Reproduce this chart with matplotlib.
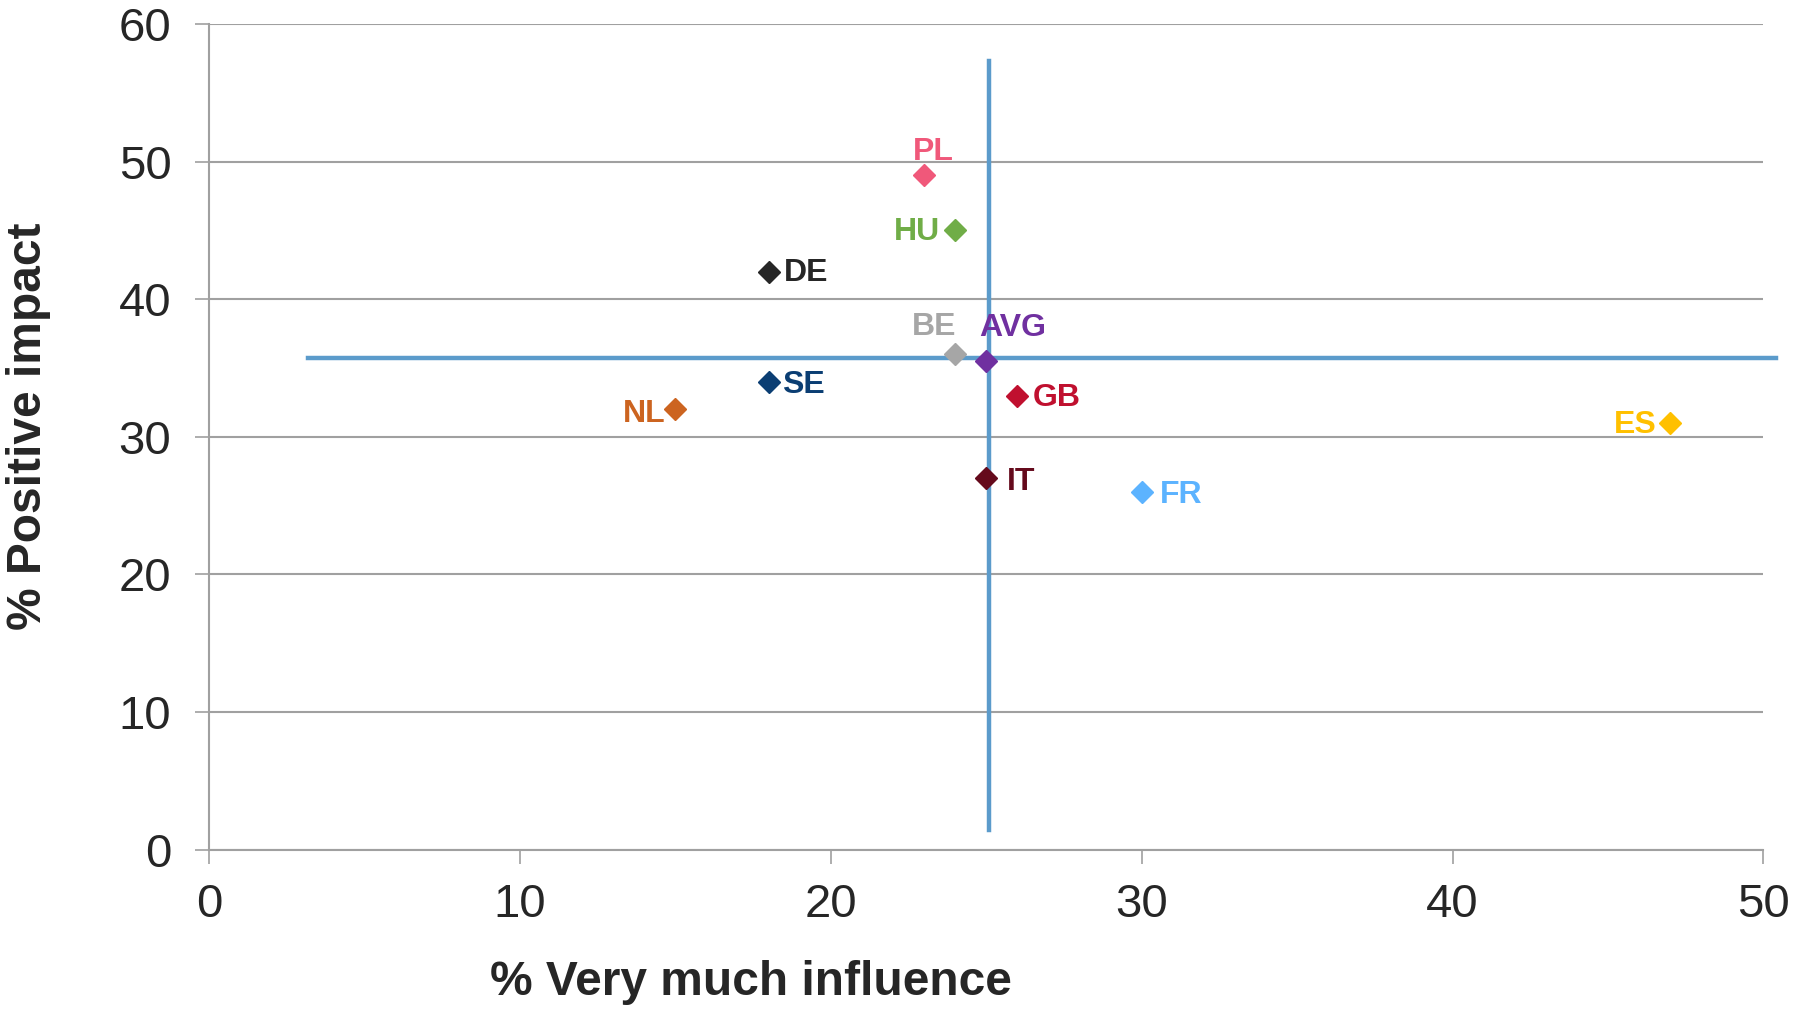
import matplotlib
matplotlib.use("Agg")
import matplotlib.pyplot as plt

plt.rcParams['font.family'] = ['Liberation Sans', 'DejaVu Sans']

countries = ["PL", "HU", "DE", "BE", "AVG", "SE", "NL", "GB", "ES", "IT", "FR"]
influence = [23, 24, 18, 24, 25, 18, 15, 26, 47, 25, 30]
positive = [49, 45, 42, 36, 35.5, 34, 32, 33, 31, 27, 26]
colors = ["#F0587A", "#70AD47", "#262626", "#A6A6A6", "#7030A0", "#0B3E73",
          "#CC6420", "#C0102F", "#FFC000", "#650A1C", "#5CB3FF"]
avg_x = 25.1
avg_y = 35.75
x_ticks = [0, 10, 20, 30, 40, 50]
y_ticks = [0, 10, 20, 30, 40, 50, 60]

# label offsets (points) and alignment
offsets = {
    "PL": ((7, 17), "center", "center"),
    "HU": ((-11, -1), "right", "center"),
    "DE": ((11, -1), "left", "center"),
    "BE": ((-15, 20), "center", "center"),
    "AVG": ((19, 24), "center", "center"),
    "SE": ((10, -2), "left", "center"),
    "NL": ((-7, -3), "right", "center"),
    "GB": ((11, -2), "left", "center"),
    "ES": ((-10, -1), "right", "center"),
    "IT": ((15, -3), "left", "center"),
    "FR": ((13, -2), "left", "center"),
}

fig = plt.figure(figsize=(17.98, 10.10), dpi=100)
ax = fig.add_axes([0.1162, 0.1587, 0.8646, 0.8175])

ax.set_xlim(0, 50)
ax.set_ylim(0, 60)
ax.set_xticks(x_ticks)
ax.set_yticks(y_ticks)
ax.grid(axis='y', color='#A0A0A0', linewidth=1.5)
ax.set_axisbelow(True)
for s in ['top', 'right']:
    ax.spines[s].set_visible(False)
for s in ['left', 'bottom']:
    ax.spines[s].set_color('#A0A0A0')
    ax.spines[s].set_linewidth(1.5)
ax.tick_params(axis='both', direction='out', length=10, width=1.2, color='#A0A0A0',
               labelsize=34, labelcolor='#262626')
ax.tick_params(axis='y', pad=17)
ax.tick_params(axis='x', pad=14)

# average lines (drawn beyond axes like the reference)
ax.plot([avg_x, avg_x], [1.4, 57.3], color='#5B9BCB', linewidth=3.2, clip_on=False, zorder=2)
ax.plot([3.2, 50.4], [avg_y, avg_y], color='#5B9BCB', linewidth=3.2, clip_on=False, zorder=2)

for c, x, y, col in zip(countries, influence, positive, colors):
    ax.plot(x, y, marker='D', markersize=11, color=col, linestyle='none', zorder=3,
            clip_on=False)
    (dx, dy), ha, va = offsets[c]
    ax.annotate(c, (x, y), xytext=(dx, dy), textcoords='offset points',
                ha=ha, va=va, fontsize=23, fontweight='bold', color=col, zorder=4)

fig.text(0.4177, 0.027, "% Very much influence", ha='center', va='center',
         fontsize=34.5, fontweight='bold', color='#262626')
fig.text(0.0161, 0.578, "% Positive impact", ha='center', va='center', rotation=90,
         fontsize=34.5, fontweight='bold', color='#262626')

fig.savefig("out.png", dpi=100)
